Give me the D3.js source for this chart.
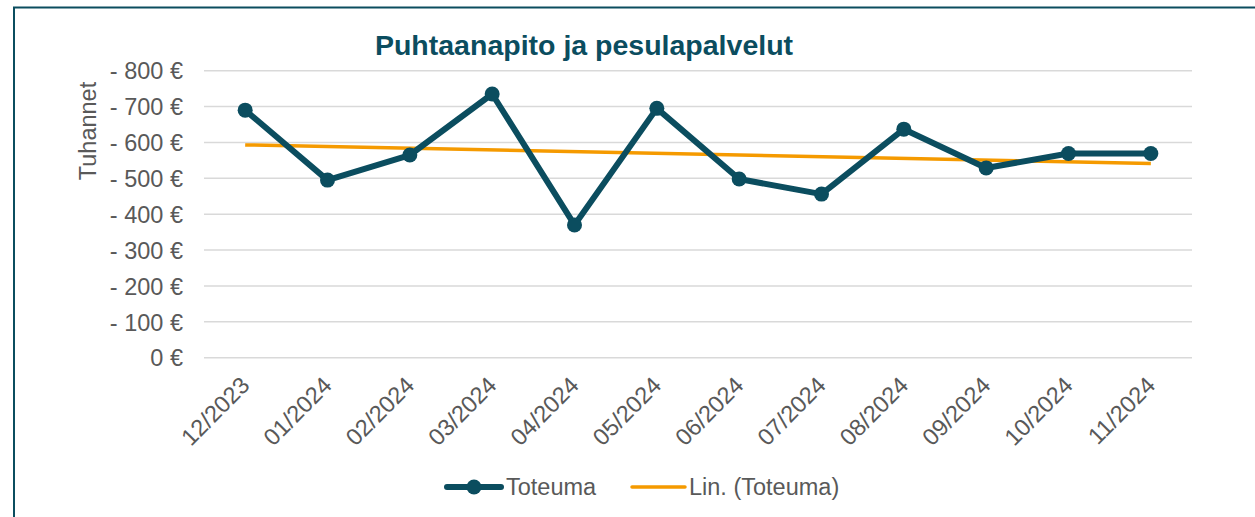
<!DOCTYPE html>
<html>
<head>
<meta charset="utf-8">
<script src="https://cdn.jsdelivr.net/npm/d3@7"></script>
<style>
  body { margin: 0; background: #fff; }
  svg { display: block; font-family: "Liberation Sans", Arial, sans-serif; }
</style>
</head>
<body>
<div id="chart"></div>
<script>
// chart data
const months = ["12/2023", "01/2024", "02/2024", "03/2024", "04/2024", "05/2024",
                "06/2024", "07/2024", "08/2024", "09/2024", "10/2024", "11/2024"];
const toteuma = [690, 495, 565, 735, 370, 695, 498, 456, 637, 529, 569, 569];
const yTicks = [0, 100, 200, 300, 400, 500, 600, 700, 800];

const width = 1255;
const height = 517;
const teal = "#0b4d5f";
const orange = "#f59a00";
const grey = "#595959";
const fs = 23.5;

const svg = d3.select("#chart")
    .append("svg")
    .attr("width", width)
    .attr("height", height);

// chart area border (only left and top visible)
svg.append("rect")
    .attr("x", 14)
    .attr("y", 7.5)
    .attr("width", 1400)
    .attr("height", 700)
    .attr("fill", "none")
    .attr("stroke", teal)
    .attr("stroke-width", 2);

const x = d3.scaleBand()
    .domain(months)
    .range([204, 1192]);

const y = d3.scaleLinear()
    .domain([0, 800])
    .range([357.7, 70.7]);

// gridlines
svg.append("g")
    .selectAll("line")
    .data(yTicks)
    .enter()
    .append("line")
    .attr("x1", 204)
    .attr("x2", 1192)
    .attr("y1", d => y(d))
    .attr("y2", d => y(d))
    .attr("stroke", "#d9d9d9")
    .attr("stroke-width", 1.5);

// y axis labels
const yAxis = svg.append("g")
    .attr("transform", "translate(183,0)")
    .call(d3.axisLeft(y)
        .tickValues(yTicks)
        .tickSize(0)
        .tickPadding(0)
        .tickFormat(d => d === 0 ? "0 €" : "- " + d + " €"));
yAxis.select(".domain").remove();
yAxis.selectAll("text")
    .attr("font-size", fs)
    .attr("fill", grey)
    .attr("font-family", "Liberation Sans, Arial, sans-serif")
    .attr("dy", "0.35em");

// x axis labels
const xAxis = svg.append("g")
    .attr("transform", "translate(0,369)")
    .call(d3.axisBottom(x).tickSize(0).tickPadding(0));
xAxis.select(".domain").remove();
xAxis.selectAll("text")
    .attr("font-size", fs)
    .attr("fill", grey)
    .attr("font-family", "Liberation Sans, Arial, sans-serif")
    .attr("text-anchor", "end")
    .attr("dy", "0.35em")
    .attr("y", 0)
    .attr("transform", "translate(0,12) rotate(-45)");

// y axis title
svg.append("text")
    .attr("transform", "translate(96,131) rotate(-90)")
    .attr("text-anchor", "middle")
    .attr("font-size", fs)
    .attr("fill", grey)
    .text("Tuhannet");

// title
svg.append("text")
    .attr("x", 584)
    .attr("y", 55)
    .attr("text-anchor", "middle")
    .attr("font-size", 28.5)
    .attr("font-weight", "bold")
    .attr("fill", teal)
    .text("Puhtaanapito ja pesulapalvelut");

// linear trendline (least squares on the series)
const n = toteuma.length;
const xs = d3.range(n);
const mx = d3.mean(xs), my = d3.mean(toteuma);
const slope = d3.sum(xs, i => (i - mx) * (toteuma[i] - my)) / d3.sum(xs, i => (i - mx) * (i - mx));
const icpt = my - slope * mx;
const cx = d => x(d) + x.bandwidth() / 2;

svg.append("line")
    .attr("x1", cx(months[0]))
    .attr("x2", cx(months[n - 1]))
    .attr("y1", y(icpt))
    .attr("y2", y(icpt + slope * (n - 1)))
    .attr("stroke", orange)
    .attr("stroke-width", 3.5);

// series line
const line = d3.line()
    .x((d, i) => cx(months[i]))
    .y(d => y(d));

svg.append("path")
    .datum(toteuma)
    .attr("d", line)
    .attr("fill", "none")
    .attr("stroke", teal)
    .attr("stroke-width", 6)
    .attr("stroke-linejoin", "round");

svg.append("g")
    .selectAll("circle")
    .data(toteuma)
    .enter()
    .append("circle")
    .attr("cx", (d, i) => cx(months[i]))
    .attr("cy", d => y(d))
    .attr("r", 7.5)
    .attr("fill", teal);

// legend
const legend = svg.append("g").attr("transform", "translate(0,487)");
legend.append("line")
    .attr("x1", 447).attr("x2", 501)
    .attr("stroke", teal).attr("stroke-width", 6).attr("stroke-linecap", "round");
legend.append("circle")
    .attr("cx", 474).attr("r", 7.5).attr("fill", teal);
legend.append("text")
    .attr("x", 506).attr("dy", "0.35em")
    .attr("font-size", fs).attr("fill", grey)
    .text("Toteuma");
legend.append("line")
    .attr("x1", 632).attr("x2", 685)
    .attr("stroke", orange).attr("stroke-width", 3.5).attr("stroke-linecap", "round");
legend.append("text")
    .attr("x", 689).attr("dy", "0.35em")
    .attr("font-size", fs).attr("fill", grey)
    .text("Lin. (Toteuma)");
</script>
</body>
</html>
